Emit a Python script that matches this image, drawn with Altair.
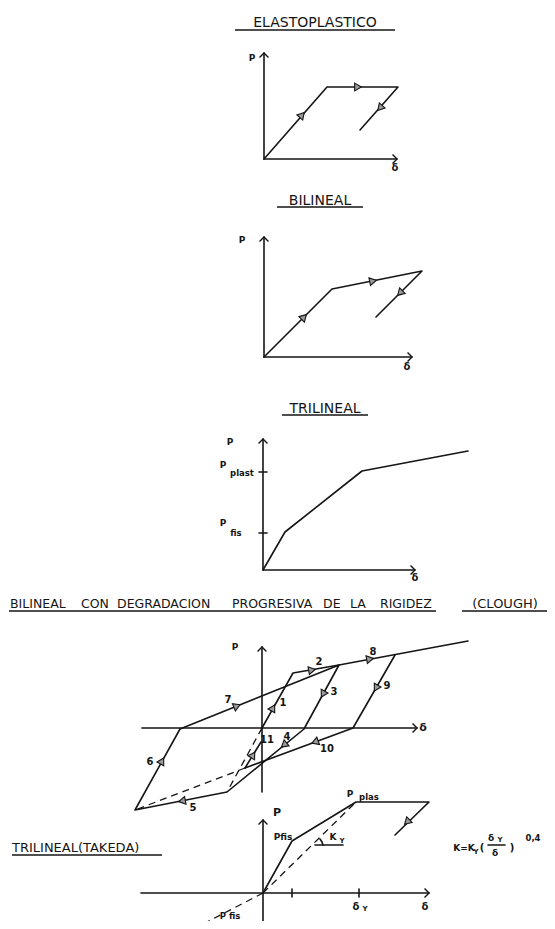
import math
import altair as alt
import pandas as pd

# ---------------- data: polylines (image pixel coords) ----------------
solid_lines = {
    # ELASTOPLASTICO
    "ep_axis_p": [(264, 53), (264, 159)],
    "ep_axis_d": [(264, 159), (397, 159)],
    "ep_curve": [(264, 159), (327, 87), (398, 87), (360, 130)],
    # BILINEAL
    "bl_axis_p": [(264, 237), (264, 357)],
    "bl_axis_d": [(264, 357), (412, 357)],
    "bl_curve": [(264, 357), (332, 289), (422, 271), (376, 317)],
    # TRILINEAL
    "tl_axis_p": [(263, 439), (263, 570)],
    "tl_axis_d": [(263, 570), (415, 570)],
    "tl_curve": [(263, 570), (285, 532), (362, 471), (468, 451)],
    "tl_tick1": [(259, 472), (267, 472)],
    "tl_tick2": [(259, 533), (267, 533)],
    # CLOUGH
    "cl_axis_p": [(262, 647), (262, 792)],
    "cl_axis_d": [(142, 728), (417, 728)],
    "cl_1_2": [(262, 728), (293, 673), (339, 665)],
    "cl_3_8": [(339, 665), (304, 729), (227, 792), (135, 810), (180, 729), (339, 665), (468, 641)],
    "cl_9_10": [(395, 655), (353, 728), (245, 768)],
    "cl_11": [(245, 768), (261, 742)],
    # TAKEDA
    "tk_axis_p": [(263, 820), (263, 929)],
    "tk_axis_d": [(141, 893), (429, 893)],
    "tk_curve": [(263, 893), (292, 841), (356, 802), (429, 802), (395, 835)],
    "tk_tick1": [(292, 889), (292, 897)],
    "tk_tick2": [(359, 889), (359, 897)],
    "tk_ky_line": [(315, 845), (343, 845)],
    "tk_ky_arc": [(320, 839), (322, 842), (323, 845)],
    "tk_frac": [(488, 845), (505, 845)],
}

dashed_lines = {
    "cl_elastic": [(262, 728), (227, 792)],
    "cl_10_ext": [(245, 768), (135, 810)],
    "tk_secant": [(263, 893), (356, 802)],
    "tk_neg": [(263, 893), (207, 922)],
}

underlines = {
    "u_ep": [(235, 30), (395, 30)],
    "u_bl": [(277, 207), (363, 207)],
    "u_tl": [(282, 415), (368, 415)],
    "u_cl1": [(9, 611), (436, 611)],
    "u_cl2": [(462, 611), (553, 611)],
    "u_tk": [(12, 855), (162, 855)],
}

# axis arrow heads: (x, y, direction "up"/"right")
axis_heads = [
    (264, 53, "up"), (397, 159, "right"),
    (264, 237, "up"), (412, 357, "right"),
    (263, 439, "up"), (415, 570, "right"),
    (262, 647, "up"), (417, 728, "right"),
    (263, 820, "up"), (429, 893, "right"),
]

# direction arrows on the curves: (x, y, dx, dy)
curve_arrows = [
    (302, 115, 63, -72), (358, 87, 1, 0), (380, 108, -38, 43),
    (304, 317, 68, -68), (373, 281, 90, -18), (400, 293, -46, 46),
    (273, 708, 31, -55), (312, 670, 46, -8), (323, 694, -35, 64),
    (284, 745, -77, 63), (182, 801, -92, 18), (162, 761, 45, -81),
    (237, 706, 159, -64), (370, 659, 129, -24), (376, 688, -42, 73),
    (315, 742, -108, 40), (253, 755, 16, -26),
    (407, 822, -34, 33),
]

# titles (centered, baseline)
titles = [("ELASTOPLASTICO", 315, 27), ("BILINEAL", 320, 205), ("TRILINEAL", 325, 413)]
clough_words = [("BILINEAL", 10), ("CON", 81), ("DEGRADACION", 117), ("PROGRESIVA", 232),
                ("DE", 323), ("LA", 350), ("RIGIDEZ", 380)]
clough_tail = [("(CLOUGH)", 505, 608)]
takeda_title = [("TRILINEAL(TAKEDA)", 12, 852)]

# small labels: (text, x, y, fontsize)
labels = [
    ("P", 252, 58, 9), ("δ", 395, 168, 10),
    ("P", 242, 240, 9), ("δ", 407, 367, 10),
    ("P", 230, 442, 9), ("P", 223, 465, 9), ("plast", 242, 473, 8.5),
    ("P", 223, 523, 9), ("fis", 236, 533, 8.5), ("δ", 415, 578, 10),
    ("P", 235, 647, 9), ("δ", 423, 728, 11),
    ("1", 283, 703, 10), ("2", 319, 662, 10), ("3", 334, 692, 10), ("4", 287, 737, 10),
    ("5", 193, 808, 10), ("6", 150, 762, 10), ("7", 228, 700, 10), ("8", 373, 652, 10),
    ("9", 387, 686, 10), ("10", 327, 749, 10), ("11", 267, 740, 10),
    ("P", 277, 813, 11), ("Pfis", 283, 837, 9), ("P", 350, 794, 9), ("plas", 369, 797, 8.5),
    ("K", 333, 837, 9), ("Y", 342, 841, 7),
    ("δ", 356, 907, 10), ("Y", 365, 909, 7), ("δ", 425, 907, 10),
    ("K=K", 464, 848, 9), ("Y", 476, 852, 7), ("(", 482, 848, 10),
    ("δ", 491, 838, 9), ("Y", 500, 840, 7), ("δ", 495, 853, 9), (")", 512, 848, 10),
    ("0,4", 533, 838, 8.5),
    ("P fis", 230, 916, 8.5),
]


# ---------------- build tables ----------------
def poly_df(lines):
    rows = []
    for name, pts in lines.items():
        for i, (x, y) in enumerate(pts):
            rows.append({"id": name, "o": i, "x": x, "y": y})
    return pd.DataFrame(rows)


def ang(dx, dy):
    return (math.degrees(math.atan2(dx, -dy)) + 360) % 360


heads_df = pd.DataFrame([{"x": x, "y": y, "a": 0 if d == "up" else 90} for x, y, d in axis_heads])
arrows_df = pd.DataFrame([{"x": x, "y": y, "a": ang(dx, dy)} for x, y, dx, dy in curve_arrows])
titles_df = pd.DataFrame([{"t": t, "x": x, "y": y} for t, x, y in titles])
clw_df = pd.DataFrame([{"t": t, "x": x, "y": 608} for t, x in clough_words])
clt_df = pd.DataFrame([{"t": t, "x": x, "y": y} for t, x, y in clough_tail])
tkt_df = pd.DataFrame([{"t": t, "x": x, "y": y} for t, x, y in takeda_title])
labels_df = pd.DataFrame([{"t": t, "x": x, "y": y, "fs": fs} for t, x, y, fs in labels])

X = alt.X("x:Q", scale=alt.Scale(domain=[8, 547], nice=False, zero=False), axis=None)
Y = alt.Y("y:Q", scale=alt.Scale(domain=[8, 921], nice=False, zero=False, reverse=True), axis=None)
INK = "#151515"
FONT = "DejaVu Sans"

solid = alt.Chart(poly_df(solid_lines)).mark_line(
    color=INK, strokeWidth=1.6, strokeCap="round", strokeJoin="round"
).encode(X, Y, detail="id:N", order="o:Q")

dashed = alt.Chart(poly_df(dashed_lines)).mark_line(
    color=INK, strokeWidth=1.3, strokeDash=[7, 5]
).encode(X, Y, detail="id:N", order="o:Q")

under = alt.Chart(poly_df(underlines)).mark_line(
    color=INK, strokeWidth=1.3
).encode(X, Y, detail="id:N", order="o:Q")

heads = alt.Chart(heads_df).mark_point(
    shape="M -1 1 L 0 0 L 1 1", filled=False, size=80, strokeWidth=1.4, color=INK, opacity=1
).encode(X, Y, angle=alt.Angle("a:Q", scale=None))

arrows = alt.Chart(arrows_df).mark_point(
    shape="triangle-up", filled=True, fill="#9a9a9a", stroke=INK, strokeWidth=1.1, size=60, opacity=1
).encode(X, Y, angle=alt.Angle("a:Q", scale=None))

title_txt = alt.Chart(titles_df).mark_text(
    align="center", baseline="alphabetic", font=FONT, fontSize=14, color=INK
).encode(X, Y, text="t:N")

clw_txt = alt.Chart(clw_df).mark_text(
    align="left", baseline="alphabetic", font=FONT, fontSize=12.5, color=INK
).encode(X, Y, text="t:N")

clt_txt = alt.Chart(clt_df).mark_text(
    align="center", baseline="alphabetic", font=FONT, fontSize=13, color=INK
).encode(X, Y, text="t:N")

tkt_txt = alt.Chart(tkt_df).mark_text(
    align="left", baseline="alphabetic", font=FONT, fontSize=13, color=INK
).encode(X, Y, text="t:N")

lab_txt = alt.Chart(labels_df).mark_text(
    align="center", baseline="middle", font=FONT, fontWeight="bold", color=INK
).encode(X, Y, text="t:N", size=alt.Size("fs:Q", scale=None))

chart = alt.layer(
    solid, dashed, under, heads, arrows, title_txt, clw_txt, clt_txt, tkt_txt, lab_txt
).properties(
    width=539, height=913, padding=0, background="white",
    autosize=alt.AutoSizeParams(type="none"),
).configure_view(stroke=None)

chart.save("out.html", embed_options={"renderer": "svg", "actions": False})
